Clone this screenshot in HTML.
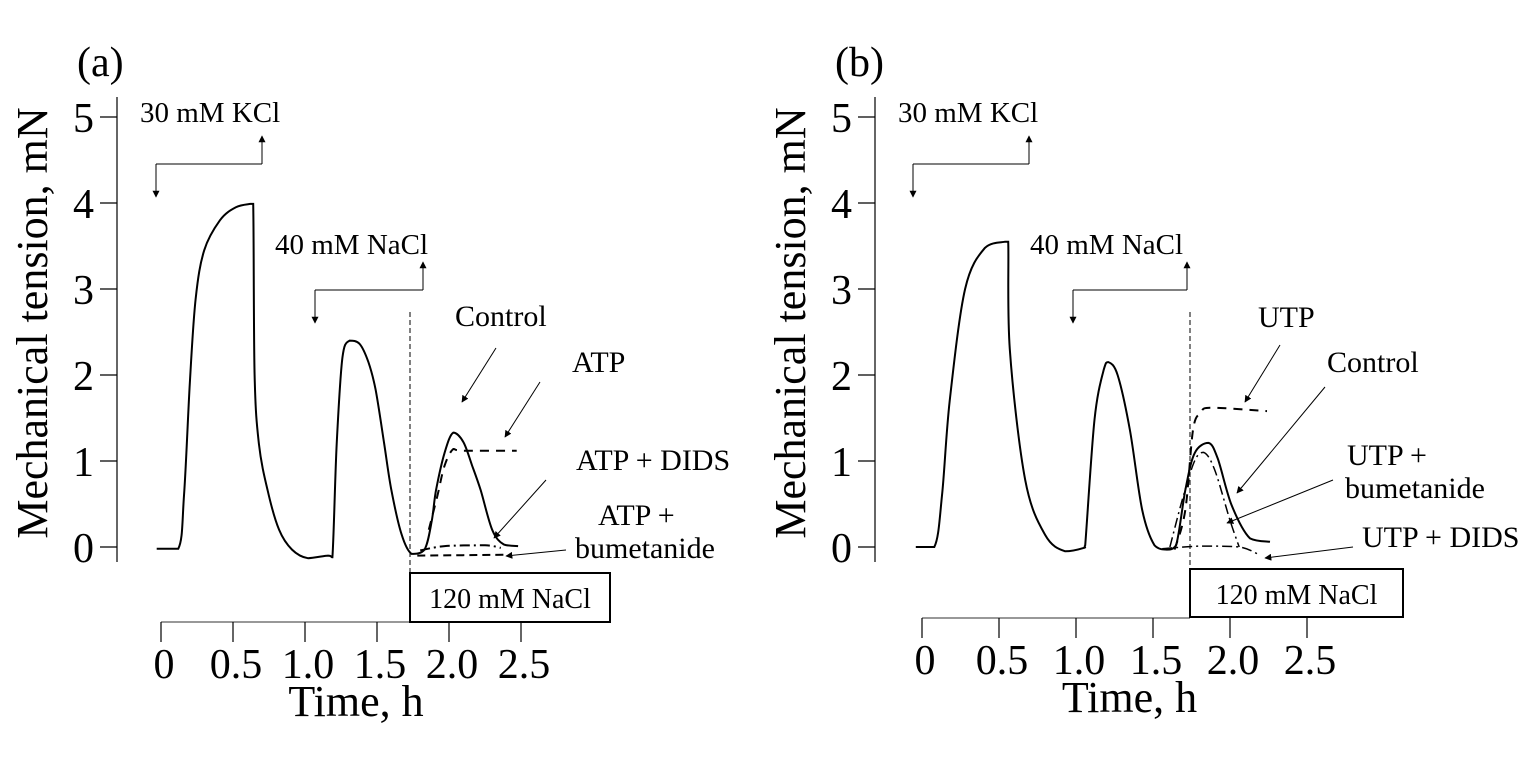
<!DOCTYPE html>
<html><head><meta charset="utf-8"><style>
html,body{margin:0;padding:0;background:#fff;}
svg{display:block;font-family:"Liberation Serif",serif;}
</style></head><body>
<svg id="fig" width="1535" height="762" viewBox="0 0 1535 762" xmlns="http://www.w3.org/2000/svg">
<defs><marker id="ah" viewBox="0 0 10 10" refX="9" refY="5" markerWidth="7" markerHeight="7" orient="auto"><path d="M0,0L10,5L0,10z" fill="#000"/></marker></defs>
</svg>
<script>
// ---------- data ----------
const yTicks = [0,1,2,3,4,5];
const xTicks = [0,0.5,1.0,1.5,2.0,2.5];
const xTickLabels = ["0","0.5","1.0","1.5","2.0","2.5"];
// panel a series [time h, tension mN]
const aControlT = [-0.03,0.12,0.16,0.20,0.24,0.30,0.41,0.52,0.62,0.64,0.65,0.68,0.74,0.82,0.91,1.02,1.16,1.19,1.22,1.26,1.31,1.38,1.44,1.49,1.55,1.60,1.67,1.74,1.83,1.88,1.91,1.97,2.03,2.10,2.16,2.22,2.30,2.38,2.48];
const aControlV = [-0.02,-0.02,0.6,1.9,2.88,3.45,3.8,3.95,3.99,3.99,2.0,1.2,0.66,0.2,-0.03,-0.13,-0.1,-0.12,1.2,2.2,2.4,2.36,2.15,1.83,1.2,0.66,0.15,-0.08,-0.03,0.3,0.66,1.1,1.33,1.22,0.95,0.66,0.2,0.03,0.01];
const aAtpT = [1.86,1.92,1.97,2.03,2.10,2.47];
const aAtpV = [0.2,0.6,0.95,1.14,1.12,1.12];
const aDidsT = [1.80,1.97,2.25,2.36];
const aDidsV = [-0.04,0.01,0.02,-0.01];
const aBumT = [1.78,2.41];
const aBumV = [-0.1,-0.09];
// panel b series
const bControlT = [-0.04,0.08,0.13,0.18,0.28,0.41,0.54,0.56,0.57,0.67,0.80,0.93,1.05,1.06,1.12,1.18,1.21,1.27,1.35,1.43,1.51,1.59,1.65,1.71,1.77,1.86,1.92,2.01,2.13,2.26];
const bControlV = [0,0,0.6,1.7,3.0,3.48,3.55,3.55,2.3,0.78,0.14,-0.05,-0.01,0.02,1.48,2.06,2.15,2.0,1.36,0.43,0.02,-0.03,0.02,0.66,1.09,1.21,1.03,0.49,0.1,0.06];
const bUtpT = [1.64,1.71,1.76,1.81,1.88,2.24];
const bUtpV = [-0.03,0.43,1.36,1.56,1.62,1.58];
const bBumT = [1.61,1.69,1.77,1.83,1.90,2.00,2.06];
const bBumV = [0,0.55,1.0,1.1,0.9,0.31,0];
const bDidsT = [1.56,1.81,2.06,2.19];
const bDidsV = [-0.02,0.01,0,-0.09];

// ---------- helpers ----------
const NS="http://www.w3.org/2000/svg";
const svg=document.getElementById('fig');
function mk(tag,attrs,parent){const e=document.createElementNS(NS,tag);for(const k in attrs)e.setAttribute(k,attrs[k]);(parent||svg).appendChild(e);return e;}
function txt(x,y,s,size,parent,anchor){const t=mk('text',{x:x,y:y,'font-size':size,fill:'#000','text-anchor':anchor||'start'},parent);t.textContent=s;return t;}
function clampY(c,a,b){const lo=Math.min(a[1],b[1]),hi=Math.max(a[1],b[1]);c[1]=Math.max(lo,Math.min(hi,c[1]));return c;}
function smooth(pts){let d='M'+pts[0][0].toFixed(1)+','+pts[0][1].toFixed(1);
 for(let i=0;i<pts.length-1;i++){const p0=pts[i-1]||pts[i],p1=pts[i],p2=pts[i+1],p3=pts[i+2]||p2;const k=1/6;
  const c1=clampY([p1[0]+(p2[0]-p0[0])*k,p1[1]+(p2[1]-p0[1])*k],p1,p2),c2=clampY([p2[0]-(p3[0]-p1[0])*k,p2[1]-(p3[1]-p1[1])*k],p1,p2);
  d+='C'+c1.map(v=>v.toFixed(1))+' '+c2.map(v=>v.toFixed(1))+' '+p2.map(v=>v.toFixed(1));}
 return d;}
function arrow(x1,y1,x2,y2,g){const l=mk('line',{x1:x1,y1:y1,x2:x2,y2:y2,stroke:'#000','stroke-width':1,'marker-end':'url(#ah)'},g);return l;}

function panel(o){
 const g=mk('g',{});
 
 
 const X=t=>o.x0+o.xs*t, Y=v=>547-86*v;
 const lab=txt(o.ax-40,76,'('+o.id+')',42,g);
 
 const yt=mk('text',{x:0,y:0,'font-size':44,fill:'#000','text-anchor':'middle',transform:'translate('+(o.ax-70)+',323) rotate(-90)'},g);
 yt.textContent='Mechanical tension, mN';
 
 const ya=mk('line',{x1:o.ax,y1:97,x2:o.ax,y2:562,stroke:'#000','stroke-width':1.2},g);
 
 yTicks.forEach(v=>{mk('line',{x1:o.ax-17,y1:Y(v),x2:o.ax,y2:Y(v),stroke:'#000','stroke-width':1.2},g);
  const t=txt(o.ax-23,Y(v)+15,String(v),42,g,'end');
  });
 const xa=mk('line',{x1:X(0),y1:o.xy,x2:o.box[0],y2:o.xy,stroke:'#777','stroke-width':1.5},g);
 
 xTicks.forEach((v,i)=>{mk('line',{x1:X(v),y1:o.xy,x2:X(v),y2:o.xy+20,stroke:'#000','stroke-width':1.2},g);
  const t=txt(X(v)+3,o.xy+56,xTickLabels[i],42,g,'middle');
  });
 const xt=txt(X(1.25)+15,o.xy+94,'Time, h',44,g,'middle');
 
 // box
 const bx=mk('rect',{x:o.box[0],y:o.box[1],width:o.box[2],height:o.box[3],fill:'#fff',stroke:'#000','stroke-width':2},g);
 
 txt(o.box[0]+o.box[2]/2,o.box[1]+35,'120 mM NaCl',28,g,'middle');
 const dv=mk('line',{x1:o.box[0],y1:312,x2:o.box[0],y2:o.box[1],stroke:'#000','stroke-width':1,'stroke-dasharray':'5,3'},g);
 
 // brackets
 o.brackets.forEach(b=>{
  const bg=mk('g',{},g);
  mk('polyline',{points:`${b.x1},${b.y} ${b.x2},${b.y}`,fill:'none',stroke:'#000','stroke-width':1},bg);
  arrow(b.x1,b.y,b.x1,b.y+33,bg);arrow(b.x2,b.y,b.x2,b.y-28,bg);
  txt(b.tx,b.ty,b.label,29,bg);});
 // series
 o.series.forEach(s=>{
  const pts=s.t.map((t,i)=>[X(t),Y(s.v[i])]);
  const p=mk('path',{d:smooth(pts),fill:'none',stroke:'#000','stroke-width':s.w||2,'stroke-dasharray':s.dash||'none'},g);
  });
 o.labels.forEach(l=>{
  const lg=mk('g',{},g);
  l.lines.forEach((s,i)=>txt(l.x[i]!==undefined?l.x[i]:l.x[0],l.y+i*33,s,30,lg));
  arrow(l.a[0],l.a[1],l.a[2],l.a[3],lg);});
}

panel({id:'a',ax:117,x0:161,xs:144,xy:622,box:[410,573,200,49],
 brackets:[{x1:156,x2:262,y:164,tx:140,ty:122,label:'30 mM KCl'},{x1:315,x2:423,y:290,tx:275,ty:254,label:'40 mM NaCl'}],
 series:[{name:'control-trace',t:aControlT,v:aControlV},
  {name:'atp-trace',t:aAtpT,v:aAtpV,dash:'9,7'},
  {name:'atp-dids-trace',t:aDidsT,v:aDidsV,dash:'10,4,2,4'},
  {name:'atp-bumetanide-trace',t:aBumT,v:aBumV,dash:'8,5'}],
 labels:[{lines:['Control'],x:[455],y:326,a:[496,348,462,402]},
  {lines:['ATP'],x:[572],y:372,a:[540,382,505,437]},
  {lines:['ATP + DIDS'],x:[576],y:470,a:[546,480,494,538]},
  {lines:['ATP +','bumetanide'],x:[598,575],y:525,a:[566,550,506,556]}]});
panel({id:'b',ax:875,x0:922,xs:154,xy:618,box:[1190,569,213,48],
 brackets:[{x1:913,x2:1029,y:164,tx:898,ty:122,label:'30 mM KCl'},{x1:1073,x2:1187,y:290,tx:1030,ty:254,label:'40 mM NaCl'}],
 series:[{name:'control-trace',t:bControlT,v:bControlV},
  {name:'utp-trace',t:bUtpT,v:bUtpV,dash:'9,7'},
  {name:'utp-bumetanide-trace',t:bBumT,v:bBumV,dash:'10,4,2,4',w:1.5},
  {name:'utp-dids-trace',t:bDidsT,v:bDidsV,dash:'10,4,2,4',w:1.5}],
 labels:[{lines:['UTP'],x:[1258],y:327,a:[1280,345,1245,402]},
  {lines:['Control'],x:[1327],y:372,a:[1325,387,1237,493]},
  {lines:['UTP +','bumetanide'],x:[1347,1345],y:465,a:[1333,480,1227,523]},
  {lines:['UTP + DIDS'],x:[1362],y:547,a:[1353,547,1265,558]}]});
</script>
</body></html>
